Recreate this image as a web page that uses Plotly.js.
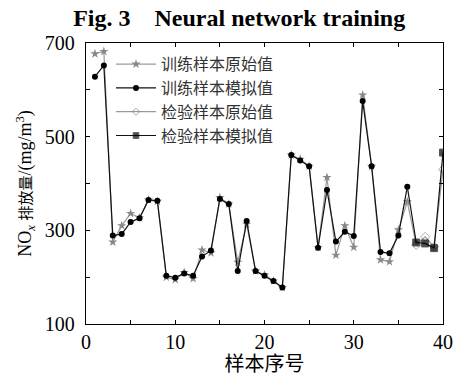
<!DOCTYPE html>
<html><head><meta charset="utf-8">
<script src="https://cdn.plot.ly/plotly-3.0.1.min.js"></script>
<style>body{margin:0;background:#fff}#c{width:453px;height:383px}</style>
</head><body><div id="c"></div>
<script>
// sample index
var trainX = [1,2,3,4,5,6,7,8,9,10,11,12,13,14,15,16,17,18,19,20,21,22,23,24,25,26,27,28,29,30,31,32,33,34,35,36];
var trainOrig = [677,682,275,310,336,327,365,362,200,195,210,197,258,252,370,356,232,313,213,205,192,178,461,452,437,263,413,247,310,264,589,437,237,233,301,361];
var trainSim  = [628,652,289,292,318,326,365,363,203,199,208,203,244,257,367,356,213,320,213,203,192,178,461,449,437,263,386,276,297,288,576,437,254,251,289,393];
var testX = [36,37,38,39,40];
var testOrig = [361,269,286,265,430];
var testSim  = [393,274,272,262,466];
var xTickVals = [0,5,10,15,20,25,30,35,40];
var xTickText = ['0','','10','','20','','30','','40'];
var yTickVals = [100,200,300,400,500,600,700];
var yTickText = ['100','','300','','500','','700'];

var serif = 'Liberation Serif, Times New Roman, serif';
var cjk = 'Liberation Serif, Noto Sans CJK SC, serif';
var traces = [
  {x: trainX, y: trainOrig, name: '训练样本原始值', mode: 'lines+markers',
   line: {color: '#9a9a9a', width: 1.2}, marker: {symbol: 'star', size: 7, color: '#888'}},
  {x: trainX, y: trainSim, name: '训练样本模拟值', mode: 'lines+markers',
   line: {color: '#111', width: 1.2}, marker: {symbol: 'circle', size: 6, color: '#000'}},
  {x: testX, y: testOrig, name: '检验样本原始值', mode: 'lines+markers',
   line: {color: '#9a9a9a', width: 1.2}, marker: {symbol: 'diamond-open', size: [0,7,7,7,7], color: '#888', line: {width: 1}}},
  {x: testX, y: testSim, name: '检验样本模拟值', mode: 'lines+markers',
   line: {color: '#111', width: 1.2}, marker: {symbol: 'square', size: [0,7,7,7,7], color: '#000'}}
];
var layout = {
  width: 453, height: 383,
  margin: {l: 86, r: 10, t: 43, b: 59},
  paper_bgcolor: '#fff', plot_bgcolor: '#fff',
  showlegend: true,
  legend: {x: 0.07, y: 0.985, xanchor: 'left', yanchor: 'top', bgcolor: 'rgba(0,0,0,0)',
           font: {family: cjk, size: 16, color: '#333'}, tracegroupgap: 0, itemwidth: 40},
  title: {text: '<b>Fig. 3&nbsp;&nbsp;&nbsp;&nbsp;Neural network training</b>', x: 0.528, xref: 'container', xanchor: 'center',
          y: 0.955, yref: 'container', yanchor: 'middle', font: {family: serif, size: 24, color: '#000'}},
  xaxis: {range: [0, 40], tickvals: xTickVals, ticktext: xTickText,
          ticks: 'inside', ticklen: 4, tickcolor: '#000', showline: true, linecolor: '#000', linewidth: 1.2,
          mirror: 'ticks', showgrid: false, zeroline: false,
          tickfont: {family: serif, size: 20, color: '#000'},
          title: {text: '样本序号', font: {family: cjk, size: 20, color: '#000'}, standoff: 4}},
  yaxis: {range: [100, 700], tickvals: yTickVals, ticktext: yTickText,
          ticks: 'inside', ticklen: 4, tickcolor: '#000', showline: true, linecolor: '#000', linewidth: 1.2,
          mirror: 'ticks', showgrid: false, zeroline: false, ticklabelstandoff: 6,
          tickfont: {family: serif, size: 20, color: '#000'},
          title: {text: 'NO<sub><i>x</i></sub> <span style="font-size:15px">排放量</span>/(mg/m<sup>3</sup>)', font: {family: cjk, size: 18, color: '#000'}, standoff: 8}}
};
Plotly.newPlot('c', traces, layout, {displayModeBar: false, staticPlot: true});
</script></body></html>
